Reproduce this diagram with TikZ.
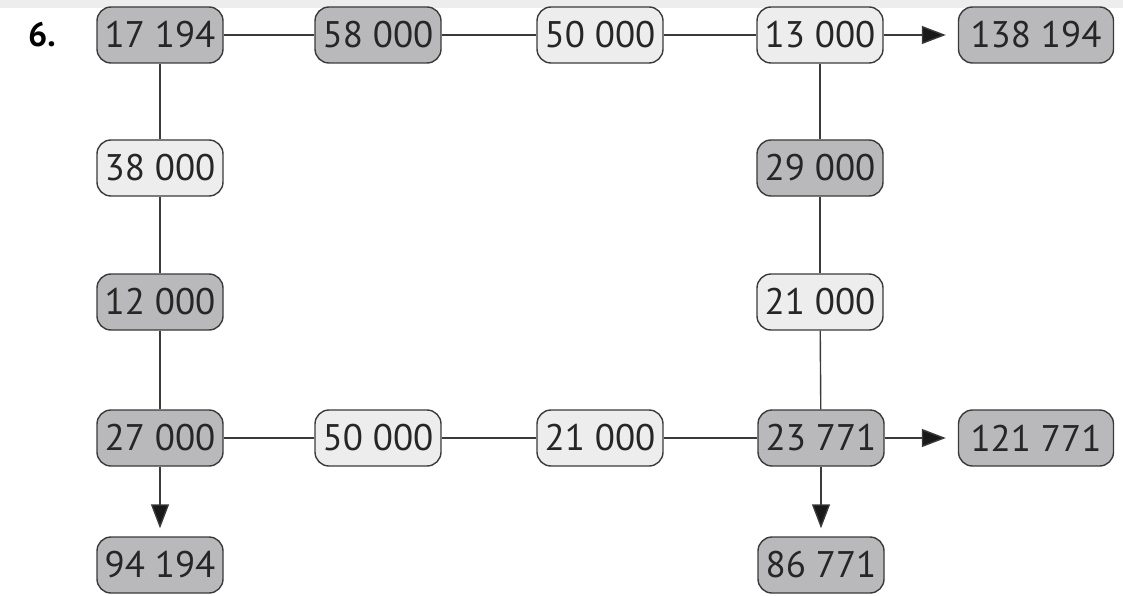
\documentclass[tikz,border=0pt]{standalone}
\usepackage{fontspec}
\setmainfont{PT Sans}
\usetikzlibrary{arrows.meta}
\definecolor{dk}{HTML}{B9B9BB}
\definecolor{lt}{HTML}{EDEDED}
\definecolor{ln}{HTML}{3A3A3A}
\begin{document}
\begin{tikzpicture}[x=1pt,y=-1pt,
  box/.style={draw=ln,line width=1.4pt,rounded corners=14pt,minimum width=126pt,minimum height=56pt,inner sep=0pt,font=\fontsize{37}{40}\selectfont,text=black!85},
  dbox/.style={box,fill=dk},
  lbox/.style={box,fill=lt},
  con/.style={draw=ln,line width=1.4pt},
  arr/.style={con,-{Triangle[length=24pt,width=18pt,fill=black!90]},shorten >=12pt}]
\useasboundingbox (0,0) rectangle (1123,596);
\fill[lt] (0,0) rectangle (1123,8);
\node[font=\bfseries\fontsize{34}{36}\selectfont] (lbl) at (42,35) {6.};
% row 1
\node[dbox] (a1) at (160,35) {17 194};
\node[dbox] (a2) at (378,35) {58 000};
\node[lbox] (a3) at (600,35) {50 000};
\node[lbox] (a4) at (820,35) {13 000};
\node[dbox,minimum width=155pt] (a5) at (1036,35) {138 194};
% column left
\node[lbox] (b1) at (160,168) {38 000};
\node[dbox] (c1) at (160,302) {12 000};
% column right
\node[dbox] (b4) at (820,168) {29 000};
\node[lbox] (c4) at (820,302) {21 000};
% row 4
\node[dbox] (d1) at (160,438) {27 000};
\node[lbox] (d2) at (378,438) {50 000};
\node[lbox] (d3) at (600,438) {21 000};
\node[dbox] (d4) at (821,438) {23 771};
\node[dbox,minimum width=155pt] (d5) at (1036,438) {121 771};
% row 5
\node[dbox] (e1) at (160,565) {94 194};
\node[dbox] (e4) at (821,565) {86 771};
% connectors
\draw[con] (a1) -- (a2);
\draw[con] (a2) -- (a3);
\draw[con] (a3) -- (a4);
\draw[arr] (a4) -- (a5);
\draw[con] (a1) -- (b1);
\draw[con] (b1) -- (c1);
\draw[con] (c1) -- (d1);
\draw[con] (a4) -- (b4);
\draw[con] (b4) -- (c4);
\draw[con] (c4) -- (d4);
\draw[con] (d1) -- (d2);
\draw[con] (d2) -- (d3);
\draw[con] (d3) -- (d4);
\draw[arr] (d4) -- (d5);
\draw[arr,shorten >=8pt] (d1) -- (e1);
\draw[arr,shorten >=8pt] (d4) -- (e4);
\end{tikzpicture}
\end{document}
